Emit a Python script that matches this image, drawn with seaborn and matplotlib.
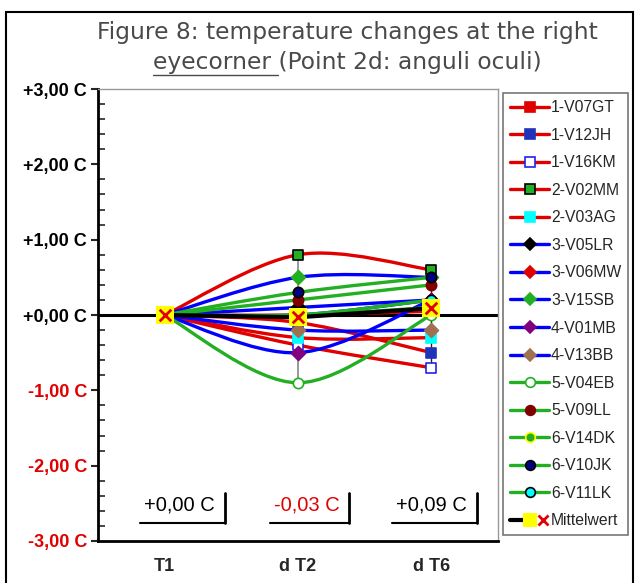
import numpy as np
import seaborn as sns
import matplotlib.pyplot as plt
from matplotlib.path import Path
from matplotlib.patches import PathPatch, Rectangle
from matplotlib.lines import Line2D
from matplotlib.legend_handler import HandlerTuple

# -----------------------------
# data
# -----------------------------
times = ["T1", "d T2", "d T6"]

v07gt = [0.0, 0.0, 0.05]
v12jh = [0.0, -0.1, -0.5]
v16km = [0.0, -0.4, -0.7]
v02mm = [0.0, 0.8, 0.6]
v03ag = [0.0, -0.3, -0.3]
v05lr = [0.0, 0.1, 0.2]
v06mw = [0.0, 0.0, 0.2]
v15sb = [0.0, 0.5, 0.5]
v01mb = [0.0, -0.5, 0.2]
v13bb = [0.0, -0.2, -0.2]
v04eb = [0.0, -0.9, 0.0]
v09ll = [0.0, 0.2, 0.4]
v14dk = [0.0, 0.0, 0.1]
v10jk = [0.0, 0.3, 0.5]
v11lk = [0.0, 0.0, 0.2]
mittelwert = [0.0, -0.03, 0.09]

RED, BLUE, GREEN = "#e00000", "#0000ff", "#22b022"

# name, values, line colour, marker, face, edge
series = [
    ("1-V07GT", v07gt, RED, "s", RED, RED),
    ("1-V12JH", v12jh, RED, "s", "#2233bb", "#2233bb"),
    ("1-V16KM", v16km, RED, "s", "white", "#2222ee"),
    ("2-V02MM", v02mm, RED, "s", GREEN, "black"),
    ("2-V03AG", v03ag, RED, "s", "#00ffff", "#00ffff"),
    ("3-V05LR", v05lr, BLUE, "D", "black", "black"),
    ("3-V06MW", v06mw, BLUE, "D", RED, RED),
    ("3-V15SB", v15sb, BLUE, "D", GREEN, GREEN),
    ("4-V01MB", v01mb, BLUE, "D", "#800080", "#800080"),
    ("4-V13BB", v13bb, BLUE, "D", "#a07050", "#a07050"),
    ("5-V04EB", v04eb, GREEN, "o", "white", GREEN),
    ("5-V09LL", v09ll, GREEN, "o", "#800000", "#800000"),
    ("6-V14DK", v14dk, GREEN, "o", GREEN, "#ffff00"),
    ("6-V10JK", v10jk, GREEN, "o", "#000080", "black"),
    ("6-V11LK", v11lk, GREEN, "o", "#00ffff", "black"),
]


def smooth_path(xs, ys):
    # excel-style smoothed line as bezier segments
    pts = np.column_stack([xs, ys]).astype(float)
    n = len(pts)
    verts, codes = [pts[0]], [Path.MOVETO]
    for i in range(n - 1):
        p0 = pts[max(i - 1, 0)]
        p1, p2 = pts[i], pts[i + 1]
        p3 = pts[min(i + 2, n - 1)]
        verts += [p1 + (p2 - p0) / 6, p2 - (p3 - p1) / 6, p2]
        codes += [Path.CURVE4] * 3
    return Path(verts, codes)


def fmt(v):
    return f"{v:+.2f} C".replace(".", ",")


sns.set_theme(style="white")
plt.rcParams["font.family"] = ["Liberation Sans", "DejaVu Sans"]

fig = plt.figure(figsize=(6.37, 5.83), dpi=100)
ax = fig.add_axes([98 / 637, 42 / 583, 400 / 637, 452 / 583])
x = np.arange(len(times))

# high-low lines
all_vals = np.array([s[1] for s in series])
ax.vlines(x[1], all_vals[:, 1].min(), all_vals[:, 1].max(), color="#888888", lw=1.2, zorder=1)
ax.vlines(x[2], all_vals[:, 2].min(), all_vals[:, 2].max(), color="#222222", lw=1.0, zorder=1)

ax.axhline(0, color="black", lw=2.2, zorder=1)

handles = []
for k, (name, vals, lc, mk, fc, ec) in enumerate(series):
    ax.add_patch(PathPatch(smooth_path(x, vals), fc="none", ec=lc, lw=2.4,
                           zorder=2 + k * 0.01, capstyle="round"))
    sns.scatterplot(x=x[1:], y=vals[1:], marker=mk, s=55 if mk != "D" else 50,
                    color=fc, edgecolor=ec, linewidth=1.2, ax=ax, zorder=3 + k * 0.01)
    handles.append(Line2D([], [], color=lc, lw=2.4, marker=mk, markersize=7 if mk != "D" else 6.5,
                          markerfacecolor=fc, markeredgecolor=ec, markeredgewidth=1.2))

# average
sns.lineplot(x=x, y=mittelwert, color="black", lw=3, ax=ax, zorder=5)
ax.scatter(x, mittelwert, marker="s", s=150, color="#ffff00", lw=0, zorder=6)
ax.scatter(x, mittelwert, marker="x", s=70, color=RED, lw=2, zorder=7)
h_mean = (Line2D([], [], color="black", lw=3),
          Line2D([], [], ls="none", marker="s", markersize=10, markerfacecolor="#ffff00", markeredgewidth=0),
          Line2D([], [], ls="none", marker="x", markersize=7, color=RED, markeredgewidth=2))
handles.append(h_mean)
labels = [s[0] for s in series] + ["Mittelwert"]

# axes styling
ax.set_xlim(-0.5, 2.5)
ax.set_ylim(-3, 3)
ax.set_xticks(x)
ax.set_xticklabels(times, fontweight="bold", fontsize=13)
ax.set_yticks(np.arange(-3, 4, 1))
ax.set_yticks(np.arange(-3, 3.01, 0.2), minor=True)
ax.set_yticklabels([fmt(v) for v in np.arange(-3, 4, 1)], fontweight="bold", fontsize=13)
for t, v in zip(ax.get_yticklabels(), np.arange(-3, 4, 1)):
    t.set_color(RED if v < 0 else "black")
ax.tick_params(axis="x", length=0, pad=12)
ax.tick_params(axis="y", which="major", direction="out", length=5, width=1.5, pad=3, left=True)
ax.tick_params(axis="y", which="minor", direction="in", length=5, width=1.2, left=True)
ax.grid(False)
for side in ["left", "bottom"]:
    ax.spines[side].set_color("black")
    ax.spines[side].set_linewidth(2)
for side in ["top", "right"]:
    ax.spines[side].set_color("#999999")
    ax.spines[side].set_linewidth(1)

# mean value boxes
box_left = [-0.185, 0.79, 1.705]
box_right = [0.453, 1.38, 2.34]
box_text_x = [0.11, 1.07, 2.0]
trans = ax.get_xaxis_transform()
for xl, xr, xt, m in zip(box_left, box_right, box_text_x, mittelwert):
    ax.plot([xl, xr], [0.04, 0.04], color="black", lw=1.5, transform=trans, zorder=8)
    ax.plot([xr, xr], [0.04, 0.106], color="black", lw=2, transform=trans, zorder=8)
    ax.text(xt, 0.08, fmt(m), ha="center", va="center", fontsize=14.5,
            color=RED if m < 0 else "black", transform=trans, zorder=8)

leg = fig.legend(handles, labels, loc="upper left", bbox_to_anchor=(503 / 637, 1 - 93 / 583),
                 borderaxespad=0, frameon=True, fancybox=False, edgecolor="#555555",
                 fontsize=11.3, labelspacing=0.8, handlelength=2.5, handletextpad=0.1,
                 borderpad=0.45, handler_map={tuple: HandlerTuple(ndivide=None, pad=0)})
leg.get_frame().set_linewidth(1.2)

# title, sized so the first line spans about 500 px like the reference
title_kw = dict(ha="center", va="center", fontsize=15, color="#4a4a4a",
                family=["DejaVu Sans"], fontweight="normal")
renderer = fig.canvas.get_renderer()
t1 = fig.text(0.545, 1 - 32 / 583, "Figure 8: temperature changes at the right", **title_kw)
title_kw["fontsize"] = 15 * 500 / t1.get_window_extent(renderer).width
t1.set_fontsize(title_kw["fontsize"])
t2 = fig.text(0.545, 1 - 62 / 583, "eyecorner (Point 2d: anguli oculi)", **title_kw)
full = t2.get_window_extent(renderer)
probe = fig.text(0, 0, "eyecorner ", **{**title_kw, "ha": "left"})
w = probe.get_window_extent(renderer).width
probe.remove()
fig.add_artist(Line2D([full.x0 / fig.bbox.width, (full.x0 + w) / fig.bbox.width],
                      [(full.y0 - 1) / fig.bbox.height] * 2, color="#4a4a4a", lw=1))

# outer frame
fig.add_artist(Rectangle((6 / 637, -0.1), 627 / 637, 1.1 - 12 / 583, transform=fig.transFigure,
                         fill=False, ec="black", lw=1.5))

fig.savefig("out.png", dpi=100)
